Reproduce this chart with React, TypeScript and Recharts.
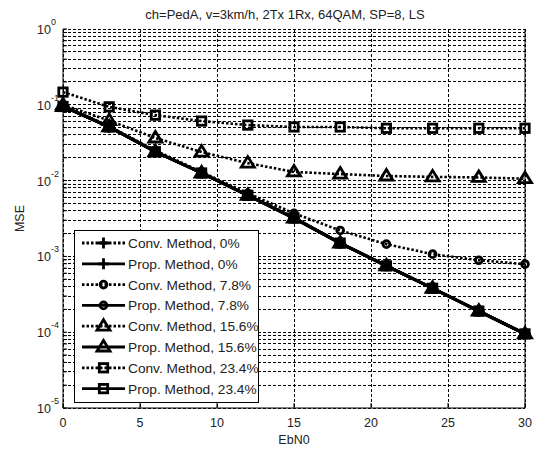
import React from 'react'
import { LineChart, Line, XAxis, YAxis, CartesianGrid, Legend, Label } from 'recharts'

// EbN0 sample points (dB)
const ebn0 = [0, 3, 6, 9, 12, 15, 18, 21, 24, 27, 30]

// MSE
const convNone = [0.098, 0.051, 0.0245, 0.0127, 0.0064, 0.0033, 0.0015, 0.00076, 0.00038, 0.00019, 0.000096]
const propNone = [0.096, 0.051, 0.024, 0.0126, 0.0064, 0.0032, 0.0015, 0.00075, 0.00038, 0.00019, 0.000095]
const conv78 = [0.098, 0.052, 0.025, 0.013, 0.0068, 0.0037, 0.0022, 0.00145, 0.00107, 0.00089, 0.00079]
const prop78 = [0.096, 0.051, 0.024, 0.0126, 0.0064, 0.0032, 0.0015, 0.00075, 0.00038, 0.00019, 0.000095]
const conv156 = [0.1, 0.062, 0.0365, 0.0238, 0.017, 0.013, 0.0122, 0.0115, 0.0112, 0.011, 0.0106]
const prop156 = [0.095, 0.051, 0.024, 0.0126, 0.0064, 0.0032, 0.0015, 0.00075, 0.00038, 0.00019, 0.000095]
const conv234 = [0.147, 0.094, 0.073, 0.061, 0.054, 0.051, 0.051, 0.049, 0.049, 0.049, 0.049]
const prop234 = [0.095, 0.051, 0.024, 0.0126, 0.0064, 0.0032, 0.0015, 0.00075, 0.00038, 0.00019, 0.000095]

const xTicks = [0, 5, 10, 15, 20, 25, 30]
const yTicks = [
  1e-5, 2e-5, 3e-5, 4e-5, 5e-5, 6e-5, 7e-5, 8e-5, 9e-5,
  1e-4, 2e-4, 3e-4, 4e-4, 5e-4, 6e-4, 7e-4, 8e-4, 9e-4,
  1e-3, 2e-3, 3e-3, 4e-3, 5e-3, 6e-3, 7e-3, 8e-3, 9e-3,
  1e-2, 2e-2, 3e-2, 4e-2, 5e-2, 6e-2, 7e-2, 8e-2, 9e-2,
  1e-1, 2e-1, 3e-1, 4e-1, 5e-1, 6e-1, 7e-1, 8e-1, 9e-1,
  1,
]

const TITLE = 'ch=PedA, v=3km/h, 2Tx 1Rx, 64QAM, SP=8, LS'
const FONT = "'Liberation Sans', Arial, Helvetica, sans-serif"

type Shape = 'plus' | 'circle' | 'triangle' | 'square'

const series: { key: string; name: string; values: number[]; shape: Shape; dotted: boolean }[] = [
  { key: 'c0', name: 'Conv. Method, 0%', values: convNone, shape: 'plus', dotted: true },
  { key: 'p0', name: 'Prop. Method, 0%', values: propNone, shape: 'plus', dotted: false },
  { key: 'c78', name: 'Conv. Method, 7.8%', values: conv78, shape: 'circle', dotted: true },
  { key: 'p78', name: 'Prop. Method, 7.8%', values: prop78, shape: 'circle', dotted: false },
  { key: 'c156', name: 'Conv. Method, 15.6%', values: conv156, shape: 'triangle', dotted: true },
  { key: 'p156', name: 'Prop. Method, 15.6%', values: prop156, shape: 'triangle', dotted: false },
  { key: 'c234', name: 'Conv. Method, 23.4%', values: conv234, shape: 'square', dotted: true },
  { key: 'p234', name: 'Prop. Method, 23.4%', values: prop234, shape: 'square', dotted: false },
]

const rows = ebn0.map((x, i) => {
  const row: Record<string, number> = { x }
  series.forEach((s) => {
    row[s.key] = s.values[i]
  })
  return row
})

const W = 537
const H = 450
const PLOT_LEFT = 63
const PLOT_RIGHT = 525
const PLOT_TOP = 29
const X_AXIS_H = 42
const PLOT_BOTTOM = H - X_AXIS_H

const DOTTED = '2.5 2'

function Marker({ shape, cx, cy }: { shape: Shape; cx: number; cy: number }) {
  const common = { fill: 'none', stroke: '#000', strokeWidth: 2.8 }
  if (shape === 'plus')
    return <path d={`M${cx - 5.5},${cy}H${cx + 5.5}M${cx},${cy - 5.5}V${cy + 5.5}`} {...common} />
  if (shape === 'circle') return <circle cx={cx} cy={cy} r={3.4} {...common} />
  if (shape === 'triangle')
    return <path d={`M${cx},${cy - 6.5}L${cx + 6.5},${cy + 4}L${cx - 6.5},${cy + 4}Z`} {...common} />
  return <rect x={cx - 4.2} y={cy - 4.2} width={8.4} height={8.4} {...common} />
}

const makeDot = (shape: Shape) => (p: any) => (
  <Marker key={`${shape}-${p.index}`} shape={shape} cx={p.cx} cy={p.cy} />
)

const YTick = (props: any) => {
  const { y, payload } = props
  const exp = Math.round(Math.log10(payload.value))
  if (Math.abs(Math.log10(payload.value) - exp) > 1e-6) return <g />
  return (
    <text x={PLOT_LEFT - 26} y={y + 5} fontSize={12.5} fill="#222" fontFamily={FONT}>
      10
      <tspan dy={-9} fontSize={9}>
        {exp}
      </tspan>
    </text>
  )
}

const XTick = (props: any) => {
  const { x, payload } = props
  return (
    <text x={x} y={PLOT_BOTTOM + 19} textAnchor="middle" fontSize={12.5} fill="#222" fontFamily={FONT}>
      {payload.value}
    </text>
  )
}

const LegendBox = () => (
  <svg width={185} height={173} style={{ display: 'block' }}>
    <rect x={0.5} y={0.5} width={184} height={172} fill="#fff" stroke="#000" />
    {series.map((s, i) => {
      const y = 13 + i * 20.8
      return (
        <g key={s.key}>
          <line
            x1={8}
            x2={51}
            y1={y}
            y2={y}
            stroke="#000"
            strokeWidth={2.8}
            strokeDasharray={s.dotted ? DOTTED : undefined}
          />
          <Marker shape={s.shape} cx={29.5} cy={y} />
          <text x={54} y={y + 5} fontSize={13.7} fill="#222" fontFamily={FONT}>
            {s.name}
          </text>
        </g>
      )
    })}
  </svg>
)

export default function App() {
  return (
    <div style={{ position: 'absolute', left: 0, top: 0, width: W, height: H, background: '#fff', fontFamily: FONT }}>
      <div
        style={{
          position: 'absolute',
          left: 54,
          top: 7,
          width: PLOT_RIGHT - PLOT_LEFT,
          textAlign: 'center',
          fontSize: 13,
          lineHeight: '16px',
          color: '#222',
          whiteSpace: 'nowrap',
        }}
      >
        {TITLE}
      </div>
      <LineChart
        width={W}
        height={H}
        data={rows}
        margin={{ top: PLOT_TOP, right: 0, bottom: 0, left: 0 }}
      >
        <CartesianGrid stroke="#000" strokeDasharray="3 2" strokeWidth={1} shapeRendering="crispEdges" />
        <XAxis
          dataKey="x"
          type="number"
          domain={[0, 30]}
          ticks={xTicks}
          interval={0}
          height={X_AXIS_H}
          tickSize={-5}
          tickLine={{ stroke: '#000' }}
          axisLine={{ stroke: '#000' }}
          tick={XTick}
        >
          <Label value="EbN0" position="insideBottom" offset={6} fontSize={12.5} fill="#222" fontFamily={FONT} />
        </XAxis>
        <XAxis
          xAxisId="top"
          orientation="top"
          dataKey="x"
          type="number"
          domain={[0, 30]}
          ticks={xTicks}
          interval={0}
          height={0}
          tickSize={-5}
          tick={false}
          tickLine={{ stroke: '#000' }}
          axisLine={{ stroke: '#000' }}
        />
        <YAxis
          type="number"
          scale="log"
          domain={[1e-5, 1]}
          allowDataOverflow
          ticks={yTicks}
          interval={0}
          width={PLOT_LEFT}
          tickSize={-4}
          tickLine={{ stroke: '#000' }}
          axisLine={{ stroke: '#000' }}
          tick={YTick}
        >
          <Label
            value="MSE"
            angle={-90}
            position="insideLeft"
            offset={20}
            fontSize={12.5}
            fill="#222"
            fontFamily={FONT}
            style={{ textAnchor: 'middle' }}
          />
        </YAxis>
        <YAxis
          yAxisId="right"
          orientation="right"
          type="number"
          scale="log"
          domain={[1e-5, 1]}
          allowDataOverflow
          ticks={yTicks}
          interval={0}
          width={W - PLOT_RIGHT}
          tickSize={-4}
          tick={false}
          tickLine={{ stroke: '#000' }}
          axisLine={{ stroke: '#000' }}
        />
        {series.map((s) => (
          <Line
            key={s.key}
            dataKey={s.key}
            name={s.name}
            stroke="#000"
            strokeWidth={s.dotted ? 2.6 : 3}
            strokeDasharray={s.dotted ? DOTTED : undefined}
            dot={makeDot(s.shape)}
            activeDot={false}
            isAnimationActive={false}
          />
        ))}
        <Legend
          layout="vertical"
          align="center"
          verticalAlign="middle"
          content={LegendBox}
          wrapperStyle={{ position: 'absolute', left: 74, top: 230, width: 185, height: 173 }}
        />
      </LineChart>
    </div>
  )
}
